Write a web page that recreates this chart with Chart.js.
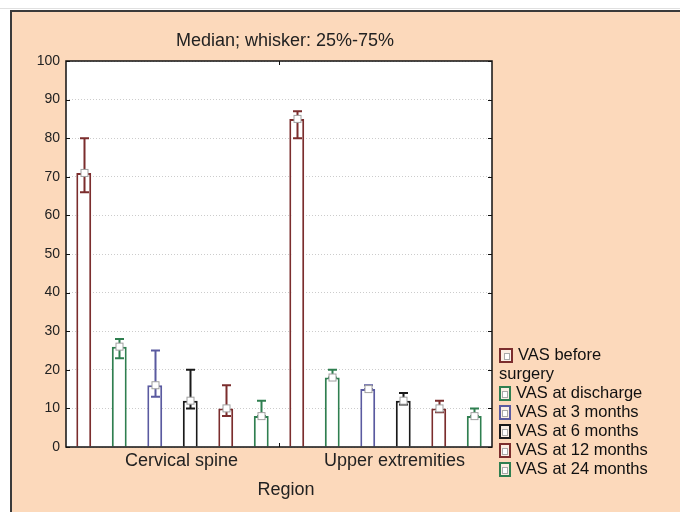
<!DOCTYPE html>
<html><head><meta charset="utf-8">
<script src="https://cdn.jsdelivr.net/npm/chart.js@4"></script>
<style>
html,body{margin:0;padding:0;background:#fff;}
#wrap{position:relative;width:680px;height:512px;overflow:hidden;}
canvas{position:absolute;left:0;top:0;}
#legend{position:absolute;left:499px;top:345px;width:150px;font:16.5px "Liberation Sans",Arial,sans-serif;color:#111;line-height:19px;}
.sw{display:inline-block;box-sizing:border-box;width:12px;height:15px;border:2px solid;vertical-align:-3px;margin-right:5px;background:#fbeee4;position:relative;}
.sw i{position:absolute;left:1px;top:3px;width:4px;height:5px;border:1px solid #aaa;background:#fff;}
.first{width:14px;}
.first i{left:3px;}
</style></head>
<body><div id="wrap"><canvas id="c" width="680" height="512"></canvas><div id="legend"></div></div>
<script>
const categories = ['Cervical spine', 'Upper extremities'];
const seriesLabels = ['VAS before surgery', 'VAS at discharge', 'VAS at 3 months', 'VAS at 6 months', 'VAS at 12 months', 'VAS at 24 months'];
const seriesColors = ['#7b2d2d', '#2f7f50', '#5a5aa0', '#1a1a1a', '#7b2d2d', '#2f7f50'];
// medians
const vasBefore    = [71, 85];
const vasDischarge = [26, 18];
const vas3m        = [16, 15];
const vas6m        = [12, 12];
const vas12m       = [10, 10];
const vas24m       = [8, 8];
// 25% quartiles
const q25Before    = [66, 80];
const q25Discharge = [23, 18];
const q25_3m       = [13, 15];
const q25_6m       = [10, 11];
const q25_12m      = [8, 9];
const q25_24m      = [8, 8];
// 75% quartiles
const q75Before    = [80, 87];
const q75Discharge = [28, 20];
const q75_3m       = [25, 16];
const q75_6m       = [20, 14];
const q75_12m      = [16, 12];
const q75_24m      = [12, 10];
const yTicks = [0, 10, 20, 30, 40, 50, 60, 70, 80, 90, 100];

const medians = [vasBefore, vasDischarge, vas3m, vas6m, vas12m, vas24m];
const lows = [q25Before, q25Discharge, q25_3m, q25_6m, q25_12m, q25_24m];
const highs = [q75Before, q75Discharge, q75_3m, q75_6m, q75_12m, q75_24m];

const FONT = '"Liberation Sans", Arial, sans-serif';

const deco = {
  id: 'deco',
  beforeDraw(chart) {
    const ctx = chart.ctx, a = chart.chartArea;
    ctx.save();
    ctx.fillStyle = '#fff'; ctx.fillRect(0, 0, 680, 512);
    ctx.fillStyle = '#e0e0e0'; ctx.fillRect(0, 8, 680, 1);
    ctx.fillStyle = '#fcd9bb'; ctx.fillRect(10, 10, 670, 502);
    ctx.strokeStyle = '#3a3a3a'; ctx.lineWidth = 2;
    ctx.beginPath(); ctx.moveTo(11, 512); ctx.lineTo(11, 11); ctx.lineTo(680, 11); ctx.stroke();
    ctx.fillStyle = '#fff'; ctx.fillRect(a.left, a.top, a.right - a.left, a.bottom - a.top);
    ctx.restore();
  },
  afterDatasetsDraw(chart) {
    const ctx = chart.ctx, ys = chart.scales.y;
    ctx.save();
    medians.forEach((m, d) => {
      const meta = chart.getDatasetMeta(d);
      meta.data.forEach((bar, i) => {
        const x = Math.round(bar.x) + 0.5;
        const yl = ys.getPixelForValue(lows[d][i]);
        const yh = ys.getPixelForValue(highs[d][i]);
        ctx.strokeStyle = seriesColors[d]; ctx.lineWidth = 2;
        ctx.beginPath();
        ctx.moveTo(x, yl); ctx.lineTo(x, yh);
        ctx.moveTo(x - 4.5, yl); ctx.lineTo(x + 4.5, yl);
        ctx.moveTo(x - 4.5, yh); ctx.lineTo(x + 4.5, yh);
        ctx.stroke();
        const ym = ys.getPixelForValue(m[i]);
        ctx.fillStyle = '#fff'; ctx.strokeStyle = '#a0a0a0'; ctx.lineWidth = 1;
        ctx.fillRect(x - 3.5, ym - 3.5, 7, 7);
        ctx.strokeRect(x - 3.5, ym - 3.5, 7, 7);
      });
    });
    ctx.restore();
  },
  afterDraw(chart) {
    const ctx = chart.ctx, a = chart.chartArea, ys = chart.scales.y, xs = chart.scales.x;
    ctx.save();
    ctx.strokeStyle = '#111'; ctx.lineWidth = 1.5;
    ctx.strokeRect(a.left, a.top, a.right - a.left, a.bottom - a.top);
    ctx.lineWidth = 1;
    ctx.beginPath();
    yTicks.forEach(v => {
      const y = Math.round(ys.getPixelForValue(v)) + 0.5;
      ctx.moveTo(a.left, y); ctx.lineTo(a.left + 4, y);
      ctx.moveTo(a.right, y); ctx.lineTo(a.right - 4, y);
    });
    const xm = Math.round((xs.getPixelForValue(0) + xs.getPixelForValue(1)) / 2) + 0.5;
    ctx.moveTo(xm, a.bottom); ctx.lineTo(xm, a.bottom - 4);
    ctx.moveTo(xm, a.top); ctx.lineTo(xm, a.top + 4);
    ctx.stroke();
    ctx.fillStyle = '#222';
    ctx.textAlign = 'center'; ctx.textBaseline = 'middle';
    ctx.font = '18px ' + FONT;
    ctx.fillText('Median; whisker: 25%-75%', 285, 41);
    ctx.fillText('Region', 286, 490);
    ctx.restore();
  }
};

const datasets = seriesLabels.map((lab, d) => ({
  label: lab,
  data: medians[d],
  backgroundColor: '#fff',
  borderColor: seriesColors[d],
  borderWidth: 2,
  borderSkipped: 'start',
  barPercentage: 0.42,
  categoryPercentage: 1.0
}));

new Chart(document.getElementById('c'), {
  type: 'bar',
  data: { labels: categories, datasets },
  options: {
    responsive: false,
    animation: false,
    devicePixelRatio: 1,
    layout: { padding: { left: 10, right: 188, top: 61, bottom: 0 } },
    plugins: { legend: { display: false }, tooltip: { enabled: false }, title: { display: false } },
    scales: {
      x: {
        grid: { display: false, drawTicks: false },
        border: { display: false },
        ticks: { font: { family: FONT, size: 18 }, color: '#222', padding: 3, labelOffset: 9, maxRotation: 0 },
        afterFit: s => { s.height = 65; }
      },
      y: {
        min: 0, max: 100,
        afterBuildTicks: s => { s.ticks = yTicks.map(v => ({ value: v })); },
        grid: { color: '#cccccc', lineWidth: 1, drawTicks: false },
        border: { display: false, dash: [1, 2] },
        ticks: { font: { family: FONT, size: 14 }, color: '#222', padding: 6 },
        afterFit: s => { s.width = 56; }
      }
    }
  },
  plugins: [deco]
});

const leg = document.getElementById('legend');
seriesLabels.forEach((lab, d) => {
  const div = document.createElement('div');
  const sw = document.createElement('span');
  sw.className = 'sw' + (d === 0 ? ' first' : '');
  sw.style.borderColor = seriesColors[d];
  sw.appendChild(document.createElement('i'));
  div.appendChild(sw);
  div.appendChild(document.createTextNode(lab));
  leg.appendChild(div);
});
</script>
</body></html>
